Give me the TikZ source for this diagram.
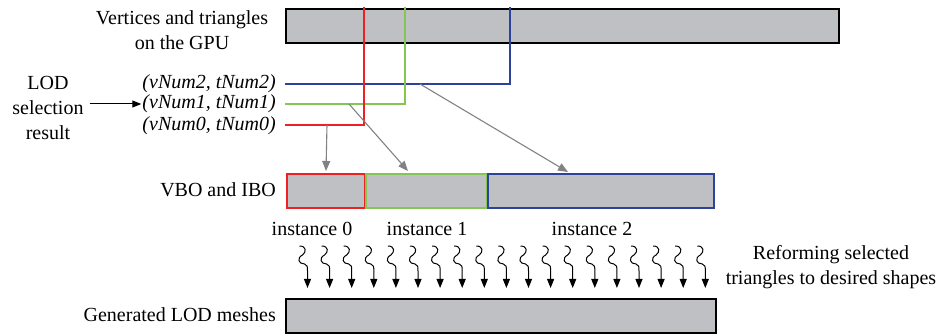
\documentclass[tikz,border=0pt]{standalone}
\usepackage{fontspec}
\setmainfont{Liberation Serif}
\usetikzlibrary{arrows.meta}
\definecolor{boxgray}{RGB}{191,192,195}
\definecolor{arrgray}{RGB}{128,130,133}
\definecolor{lodred}{RGB}{237,32,36}
\definecolor{lodgreen}{RGB}{132,197,84}
\definecolor{lodblue}{RGB}{44,66,155}
\tikzset{
  buffer/.style={draw=black, fill=boxgray, line width=2.2pt, inner sep=0pt, anchor=north west},
  part/.style={fill=boxgray, line width=2pt, inner sep=0pt, anchor=north west},
  lbl/.style={font=\fontsize{20}{25}\selectfont, inner sep=0pt, align=center},
  sel/.style={line width=2pt},
  pick/.style={draw=arrgray, line width=1.1pt, -{Triangle[length=10pt,width=8pt]}},
  wave/.style={line width=1pt, -{Triangle[length=9pt,width=7pt]}}
}
\begin{document}
\begin{tikzpicture}[x=1pt,y=-1pt]
\useasboundingbox (0,0) rectangle (943,336);

% source buffer on the GPU
\node[buffer, minimum width=553pt, minimum height=34pt] (gpu) at (285,8) {};
\node[lbl] (gpulbl) at (182,30) {Vertices and triangles\\on the GPU};

% LOD selection labels
\node[lbl] (lodlbl) at (48,108) {LOD\\selection\\result};
\node[lbl, anchor=east, font=\fontsize{20}{25}\selectfont\itshape] (s2) at (276,84) {(vNum2, tNum2)};
\node[lbl, anchor=east, font=\fontsize{20}{25}\selectfont\itshape] (s1) at (276,104) {(vNum1, tNum1)};
\node[lbl, anchor=east, font=\fontsize{20}{25}\selectfont\itshape] (s0) at (276,126) {(vNum0, tNum0)};
\draw[line width=1pt, -{Triangle[length=9pt,width=7pt]}] (lodlbl.east |- s1) ++(6,0) -- ([xshift=-1pt]s1.west);

% VBO / IBO parts
\node[part, draw=lodred, minimum width=78pt, minimum height=34pt] (i0) at (286,173) {};
\node[part, draw=lodgreen, minimum width=121pt, minimum height=34pt] (i1) at (365,173) {};
\node[part, draw=lodblue, minimum width=226pt, minimum height=34pt] (i2) at (487,173) {};
\node[lbl, anchor=east] (vbo) at (276,190) {VBO and IBO};
\node[lbl] (n0) at (312,229) {instance 0};
\node[lbl] (n1) at (427,229) {instance 1};
\node[lbl] (n2) at (592,229) {instance 2};

% selection lines into the GPU buffer
\coordinate (r0) at (285,125);
\coordinate (r1) at (364,125);
\coordinate (r2) at (364,7);
\coordinate (g0) at (285,104);
\coordinate (g1) at (405,104);
\coordinate (g2) at (405,7);
\coordinate (b0) at (285,84);
\coordinate (b1) at (510,84);
\coordinate (b2) at (510,7);
\draw[sel, lodblue] (b0) -- (b1) -- (b2);
\draw[sel, lodgreen] (g0) -- (g1) -- (g2);
\draw[sel, lodred] (r0) -- (r1) -- (r2);

% copies into the instances
\coordinate (p0) at (327,125);
\coordinate (p1) at (349,104);
\coordinate (p2) at (420,84);
\coordinate (q0) at (326,171);
\coordinate (q1) at (408,171);
\coordinate (q2) at (568,172);
\draw[pick] (p0) -- (q0);
\draw[pick] (p1) -- (q1);
\draw[pick] (p2) -- (q2);

% reforming step
\foreach \k in {0,...,18} {
  \pgfmathsetmacro{\xx}{307.5+22.1*\k}
  \draw[wave] (\xx-8,246) .. controls (\xx-1,246) and (\xx-1,252) .. (\xx-5,255)
     .. controls (\xx-11,258) and (\xx-9,264) .. (\xx-3,264)
     .. controls (\xx,264.5) and (\xx,267) .. (\xx,271) -- (\xx,288);
}
\node[lbl] (reform) at (831,267) {Reforming selected\\triangles to desired shapes};

% output meshes
\node[buffer, minimum width=430pt, minimum height=34pt] (out) at (285,298) {};
\node[lbl, anchor=east] (outlbl) at (276,315) {Generated LOD meshes};
\end{tikzpicture}
\end{document}
